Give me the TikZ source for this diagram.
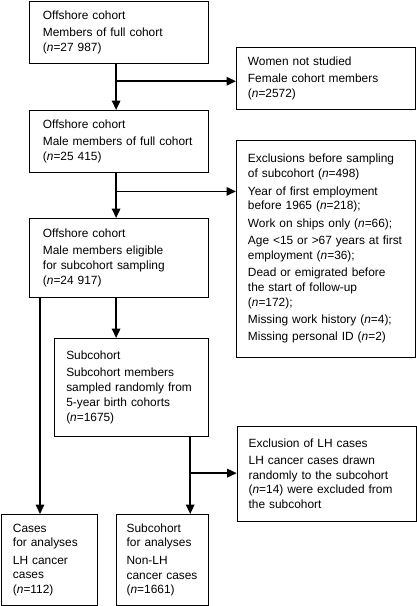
\documentclass[tikz,border=0pt]{standalone}
\usepackage{fontspec}
\setmainfont{Liberation Sans}
\usepackage{tikz}
\usetikzlibrary{arrows.meta, positioning, calc}

\newcommand{\nn}{\textit{n}}

\begin{document}
\begin{tikzpicture}[x=1pt, y=-1pt,
    box/.style={draw, line width=0.9pt, anchor=north west, align=left,
        inner xsep=11.5pt, inner ysep=0pt,
        font=\fontsize{11.9}{14.8}\selectfont},
    arr/.style={line width=1.6pt, -{Triangle[length=9.5pt, width=8.5pt]}}]
    \useasboundingbox (0,0) rectangle (417,606);

    % Main column
    \node (full) at (29,0.7) [box, inner xsep=13.5pt, text width=152.3pt, minimum height=62pt]
        {Offshore cohort\\[2.5pt] Members of full cohort\\ (\nn=27~987)};
    \node (male) at (29,110) [box, inner xsep=13.5pt, text width=152.3pt, minimum height=62pt]
        {Offshore cohort\\[2.5pt] Male~members~of~full~cohort\\ (\nn=25~415)};
    \node (elig) at (29,218) [box, inner xsep=13.5pt, text width=152.3pt, minimum height=78.7pt]
        {Offshore cohort\\[2.5pt] Male members eligible\\ for subcohort sampling\\ (\nn=24~917)};
    \node (sub) at (54.3,338) [box, text width=131pt, minimum height=98pt]
        {Subcohort\\[2.5pt] Subcohort members\\ sampled~randomly~from\\ 5-year birth cohorts\\ (\nn=1675)};
    \node (cases) at (1,514) [box, text width=73.3pt, minimum height=91pt]
        {Cases\\ for analyses\\[2.5pt] LH cancer\\ cases\\ (\nn=112)};
    \node (subana) at (115.7,514) [box, inner xsep=10.5pt, text width=71.6pt, minimum height=91pt]
        {Subcohort\\ for~analyses\\[2.5pt] Non-LH\\ cancer~cases\\ (\nn=1661)};

    % Side boxes
    \node (women) at (236,46.7) [box, text width=156pt, minimum height=62.3pt]
        {Women not studied\\[2.5pt] Female cohort members\\ (\nn=2572)};
    \node (excl) at (236,140) [box, text width=156pt, minimum height=216.7pt]
        {Exclusions~before~sampling\\ of subcohort (\nn=498)\\[2.5pt]
         Year of first employment\\ before 1965 (\nn=218);\\[2.5pt]
         Work on ships only (\nn=66);\\[2.5pt]
         Age~<15~or~>67~years~at~first\\ employment (\nn=36);\\[2.5pt]
         Dead or emigrated before\\ the start of follow-up\\ (\nn=172);\\[2.5pt]
         Missing work history (\nn=4);\\[2.5pt]
         Missing personal ID (\nn=2)};
    \node (lhexcl) at (236.7,425.7) [box, text width=156.3pt, minimum height=95pt]
        {Exclusion of LH cases\\[2.5pt] LH cancer cases drawn\\ randomly~to~the~subcohort\\ (\nn=14)~were~excluded~from\\ the subcohort};

    % Junctions
    \coordinate (j1) at ($([xshift=-3pt]full.south)!0.38!([xshift=-3pt]male.north)$);
    \coordinate (j2) at ($([xshift=-3pt]male.south)!0.41!([xshift=-3pt]elig.north)$);
    \coordinate (j3) at ($([xshift=-19pt]sub.south east)!0.47!([xshift=-19pt]sub.south east |- subana.north)$);

    % Arrows
    \draw[arr] ([xshift=-3pt]full.south) -- ([xshift=-3pt]male.north);
    \draw[arr] (j1) -- (j1 -| women.west);
    \draw[arr] ([xshift=-3pt]male.south) -- ([xshift=-3pt]elig.north);
    \draw[arr] (j2) -- (j2 -| excl.west);
    \draw[arr] ([xshift=-3pt]elig.south) -- ([xshift=-3pt]elig.south |- sub.north);
    \draw[arr] ([xshift=11pt]elig.south west) -- ([xshift=11pt]elig.south west |- cases.north);
    \draw[arr] ([xshift=-19pt]sub.south east) -- ([xshift=-19pt]sub.south east |- subana.north);
    \draw[arr] (j3) -- (j3 -| lhexcl.west);
\end{tikzpicture}
\end{document}
